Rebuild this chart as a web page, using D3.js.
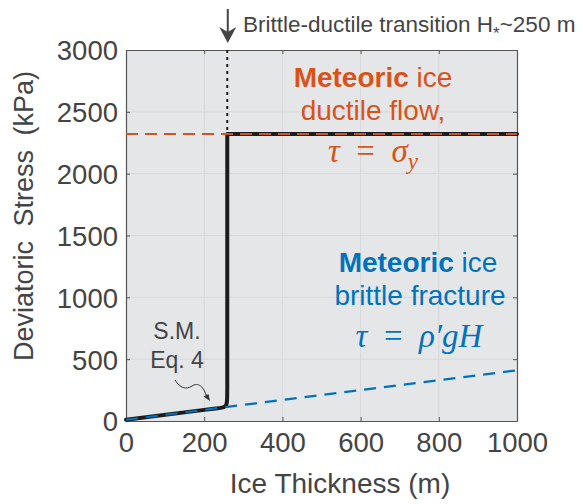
<!DOCTYPE html>
<html>
<head>
<meta charset="utf-8">
<script src="https://cdn.jsdelivr.net/npm/d3@7"></script>
<style>
  body { margin: 0; background: #fff; }
  svg { display: block; font-family: "Liberation Sans", Arial, sans-serif; }
  .tick text { fill: #444; font-size: 27.5px; }
</style>
</head>
<body>
<div id="chart"></div>
<script>
// ---- data ----
var xTicks = [0, 200, 400, 600, 800, 1000];
var yTicks = [0, 500, 1000, 1500, 2000, 2500, 3000];
var yieldStress = 2320;          // kPa, tau = sigma_y
var transitionH = 259;           // m, brittle-ductile transition
var brittleLine = [[0, 10], [1000, 410]];   // tau = rho' g H
var modelCurve = [                 // S.M. Eq. 4
  [0, 10], [200, 90], [230, 101], [242, 106], [250, 112], [255, 122],
  [257.5, 140], [258.6, 180], [259, 260], [259, 2320], [1000, 2320]
];

var svgWidth = 583, svgHeight = 504;
var margin = {top: 50, right: 66, bottom: 83, left: 126},
    width = svgWidth - margin.left - margin.right,
    height = svgHeight - margin.top - margin.bottom;

var svg = d3.select("#chart").append("svg")
  .attr("width", svgWidth)
  .attr("height", svgHeight);

var g = svg.append("g").attr("transform", "translate(" + margin.left + "," + margin.top + ")");

var xScale = d3.scaleLinear().domain([0, 1000]).range([0, width]);
var yScale = d3.scaleLinear().domain([0, 3000]).range([height, 0]);

var orange = "#d95319", blue = "#0072bd", ink = "#444";

// background
g.append("rect").attr("width", width).attr("height", height).attr("fill", "#e5e6e8");

// grid
g.append("g").attr("class", "grid")
  .selectAll("line.gx").data(xTicks.slice(1, -1)).enter().append("line")
  .attr("x1", xScale).attr("x2", xScale).attr("y1", 0).attr("y2", height)
  .attr("stroke", "#d7d8da").attr("stroke-width", 1);
g.select(".grid").selectAll("line.gy").data(yTicks.slice(1, -1)).enter().append("line")
  .attr("y1", yScale).attr("y2", yScale).attr("x1", 0).attr("x2", width)
  .attr("stroke", "#d7d8da").attr("stroke-width", 1);

// axes (ticks inside, box on)
var fmt = d3.format("d");
var xAxis = g.append("g").attr("transform", "translate(0," + height + ")")
  .call(d3.axisBottom(xScale).tickValues(xTicks).tickFormat(fmt).tickSizeInner(-4).tickSizeOuter(0).tickPadding(9));
var yAxis = g.append("g")
  .call(d3.axisLeft(yScale).tickValues(yTicks).tickFormat(fmt).tickSizeInner(-4).tickSizeOuter(0).tickPadding(8));
g.append("g").call(d3.axisTop(xScale).tickValues(xTicks).tickSizeInner(-4).tickSizeOuter(0).tickFormat(""));
g.append("g").attr("transform", "translate(" + width + ",0)")
  .call(d3.axisRight(yScale).tickValues(yTicks).tickSizeInner(-4).tickSizeOuter(0).tickFormat(""));
g.selectAll(".domain").attr("stroke", "#555").attr("stroke-width", 1.2);
g.selectAll(".tick line").attr("stroke", "#555");
xAxis.selectAll(".tick text").attr("dy", "0.8em");
yAxis.selectAll(".tick text").attr("dy", "0.36em");

// lines
var line = d3.line()
  .x(function(d) { return xScale(d[0]); })
  .y(function(d) { return yScale(d[1]); });

g.append("path")
  .attr("d", line(modelCurve))
  .attr("fill", "none").attr("stroke", "#1c1c1c").attr("stroke-width", 4)
  .attr("stroke-linejoin", "round").attr("stroke-linecap", "round");

g.append("path")
  .attr("d", line(brittleLine))
  .attr("fill", "none").attr("stroke", blue).attr("stroke-width", 2.2)
  .attr("stroke-dasharray", "12,8");

g.append("path")
  .attr("d", line([[0, yieldStress], [1000, yieldStress]]))
  .attr("fill", "none").attr("stroke", orange).attr("stroke-width", 2)
  .attr("stroke-dasharray", "12,7");

g.append("path")
  .attr("d", line([[transitionH, 3000], [transitionH, yieldStress]]))
  .attr("fill", "none").attr("stroke", "#1c1c1c").attr("stroke-width", 2)
  .attr("stroke-dasharray", "3,4");

// transition arrow + label
var ax = margin.left + xScale(transitionH) + 0.5;
svg.append("line").attr("x1", ax).attr("x2", ax).attr("y1", 9).attr("y2", 36)
  .attr("stroke", ink).attr("stroke-width", 2);
svg.append("path")
  .attr("d", "M" + ax + ",43 L" + (ax - 8.5) + ",27 L" + ax + ",32 L" + (ax + 8.5) + ",27 Z")
  .attr("fill", ink);
var tt = svg.append("text").attr("x", 243).attr("y", 32).attr("fill", ink).style("font-size", "22.5px");
tt.append("tspan").text("Brittle-ductile transition H");
tt.append("tspan").attr("dy", 7).style("font-size", "17px").text("*");
tt.append("tspan").attr("dy", -7).text("~250 m");

// orange annotation
var o1 = svg.append("text").attr("x", 373).attr("y", 87).attr("text-anchor", "middle")
  .attr("fill", orange).style("font-size", "28px");
o1.append("tspan").style("font-weight", "bold").text("Meteoric");
o1.append("tspan").text(" ice");
svg.append("text").attr("x", 373).attr("y", 120).attr("text-anchor", "middle")
  .attr("fill", orange).style("font-size", "28px").text("ductile flow,");
var om = svg.append("text").attr("x", 373).attr("y", 162).attr("text-anchor", "middle")
  .attr("fill", orange).style("font-family", "'Liberation Serif', serif").style("font-size", "33px")
  .style("white-space", "pre");
om.append("tspan").style("font-style", "italic").text("τ");
om.append("tspan").text("  =  ");
om.append("tspan").style("font-style", "italic").text("σ");
om.append("tspan").attr("dy", 7).style("font-style", "italic").style("font-size", "23px").text("y");

// blue annotation
var b1 = svg.append("text").attr("x", 418).attr("y", 272).attr("text-anchor", "middle")
  .attr("fill", blue).style("font-size", "28px");
b1.append("tspan").style("font-weight", "bold").text("Meteoric");
b1.append("tspan").text(" ice");
svg.append("text").attr("x", 420).attr("y", 305).attr("text-anchor", "middle")
  .attr("fill", blue).style("font-size", "28px").text("brittle fracture");
var bm = svg.append("text").attr("x", 419).attr("y", 347).attr("text-anchor", "middle")
  .attr("fill", blue).style("font-family", "'Liberation Serif', serif").style("font-size", "33px")
  .style("white-space", "pre");
bm.append("tspan").style("font-style", "italic").text("τ");
bm.append("tspan").text("  =  ");
bm.append("tspan").style("font-style", "italic").text("ρ′gH");

// S.M. Eq. 4 note
svg.append("text").attr("x", 177).attr("y", 339).attr("text-anchor", "middle")
  .attr("fill", ink).style("font-size", "23px").text("S.M.");
svg.append("text").attr("x", 177).attr("y", 368).attr("text-anchor", "middle")
  .attr("fill", ink).style("font-size", "23px").text("Eq. 4");
svg.append("path")
  .attr("d", "M175,380 C180,388 186,390 192,386 C198,382 204,386 207,398")
  .attr("fill", "none").attr("stroke", "#333").attr("stroke-width", 1);
svg.append("path").attr("d", "M210,401 L203.5,396.5 L208.5,394 Z").attr("fill", "#333");

// axis labels
svg.append("text").attr("x", 340).attr("y", 493).attr("text-anchor", "middle")
  .attr("fill", ink).style("font-size", "28px").text("Ice Thickness (m)");
svg.append("text").attr("transform", "translate(33,216) rotate(-90)").attr("text-anchor", "middle")
  .attr("fill", ink).style("font-size", "27px").style("word-spacing", "7px")
  .text("Deviatoric Stress (kPa)");
</script>
</body>
</html>
